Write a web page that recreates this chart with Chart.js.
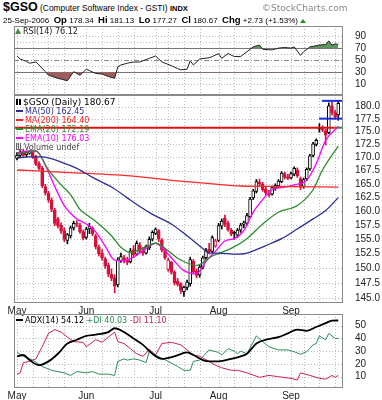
<!DOCTYPE html>
<html><head><meta charset="utf-8">
<script src="https://cdn.jsdelivr.net/npm/chart.js@4.4.1/dist/chart.umd.min.js"></script>
<style>
html,body{margin:0;padding:0;background:#fff;}
#wrap{position:relative;width:382px;height:400px;overflow:hidden;font-family:"Liberation Sans",Arial,sans-serif;color:#000;}
canvas{position:absolute;left:0;}
.t{position:absolute;white-space:nowrap;line-height:1;z-index:5;}
.lg{position:absolute;white-space:nowrap;line-height:1;font-family:"DejaVu Sans",Verdana,sans-serif;font-size:8px;z-index:5;}
.sw{display:inline-block;width:7px;height:2px;vertical-align:middle;margin-right:2px;position:relative;top:-1px;}
</style></head><body>
<div id="wrap">
<canvas id="cRsi" width="382" height="70" style="top:25px"></canvas>
<canvas id="cMain" width="382" height="222" style="top:94px"></canvas>
<canvas id="cAdx" width="382" height="87" style="top:313px"></canvas>

<div class="t" style="left:3px;top:1px;font-size:8.4px;"><b style="font-size:12.5px">$GSO</b> (Computer Software Index - GSTI) <b style="font-size:7.5px">INDX</b></div>
<div class="t" style="left:262px;top:4px;font-size:9px;color:#888;font-family:'DejaVu Sans',sans-serif">&copy;StockCharts.com</div>
<div class="t" style="left:3px;top:15px;font-size:8px;">25-Sep-2006 &nbsp;<b style="font-size:9.5px">Op</b> 178.34 &nbsp;<b style="font-size:9.5px">Hi</b> 181.13 &nbsp;<b style="font-size:9.5px">Lo</b> 177.27 &nbsp;<b style="font-size:9.5px">Cl</b> 180.67 &nbsp;<b style="font-size:9.5px">Chg</b> +2.73 (+1.53%) <span style="display:inline-block;width:0;height:0;border-left:3px solid transparent;border-right:3px solid transparent;border-bottom:4px solid #1a9a1a;"></span></div>

<div class="lg" style="left:15px;top:28px;color:#222"><span style="display:inline-block;width:0;height:0;border-left:3px solid transparent;border-right:3px solid transparent;border-bottom:6px solid #4a8a4a;margin-right:2px"></span>RSI(14) 76.12</div>

<div class="lg" style="left:16px;top:98px;font-size:9px;color:#000"><span style="display:inline-block;width:5px;height:6px;border-left:2px solid #000;border-right:2px solid #000;margin-right:2px;box-sizing:border-box"></span>$GSO (Daily) 180.67</div>
<div class="lg" style="left:16px;top:108px;color:#2b2f8f"><span class="sw" style="background:#2b2f8f"></span>MA(50) 162.45</div>
<div class="lg" style="left:16px;top:117px;color:#ff2020"><span class="sw" style="background:#ff2020"></span>MA(200) 164.40</div>
<div class="lg" style="left:16px;top:126px;color:#2e8b2e"><span class="sw" style="background:#2e8b2e"></span>EMA(20) 172.19</div>
<div class="lg" style="left:16px;top:135px;color:#ff00ff"><span class="sw" style="background:#ff00ff"></span>EMA(10) 176.03</div>
<div class="lg" style="left:16px;top:143px;color:#444"><span style="display:inline-block;width:6px;height:6px;border-bottom:1px solid #666;background:linear-gradient(90deg,#666 0 1px,transparent 1px 2px,#666 2px 3px,transparent 3px 4px,#666 4px 5px,transparent 5px);margin-right:2px"></span>Volume undef</div>

<div class="lg" style="left:16px;top:317px;"><span class="sw" style="background:#000"></span><span style="color:#000">ADX(14) 54.12</span> <span style="color:#2e8b57">+DI 40.03</span> <span style="color:#cc2255">-DI 11.10</span></div>
</div>
<script>
// ---------- data ----------
const monthLabels = ['May','Jun','Jul','Aug','Sep'];
const monthIdx = [0,22,44,64,87];
const gridIdx = [0,5,10,15,22,27,32,37,44,48,53,58,64,69,74,79,87,91,96,101];
const priceTicks = [145,147.5,150,152.5,155,157.5,160,162.5,165,167.5,170,172.5,175,177.5,180];
const rsiTicks = [10,30,50,70,90];
const rsiGrid = [10,20,40,60,80,90];
const adxTicks = [10,20,30,40,50];

const openP = [169.8,170.4,171.2,170.5,170.8,171.0,170.1,168.8,167.9,164.5,
163.3,162.0,160.2,158.6,157.5,156.5,154.8,155.6,157.0,157.8,
157.5,156.3,155.3,156.8,157.0,155.6,153.6,152.6,151.6,150.5,
149.0,148.4,147.2,151.3,151.8,151.3,151.1,153.2,152.4,154.0,
153.0,152.6,153.5,155.0,156.0,156.5,154.9,153.1,149.8,151.0,
149.3,147.8,147.4,146.1,146.8,147.4,151.2,149.5,148.9,150.2,
151.8,153.3,152.9,153.8,154.8,157.3,158.7,157.8,156.6,156.2,
155.7,156.6,157.6,157.8,159.0,162.4,163.6,165.3,164.9,164.0,
163.2,163.1,164.2,164.6,165.4,166.9,166.3,166.1,166.8,167.6,
166.0,164.5,165.9,167.8,170.4,172.5,175.8,175.6,175.2,174.8,
180.2,178.8,178.34];
const highP = [170.9,171.3,171.6,171.2,171.3,171.2,170.4,169.2,168.3,164.9,
163.6,162.4,160.5,158.9,157.9,157.0,156.0,157.3,158.2,158.3,
157.8,156.6,157.1,157.8,157.2,155.9,154.0,153.2,151.9,150.9,
149.9,148.9,151.8,152.6,152.2,151.9,153.4,153.9,154.7,154.4,
153.6,154.0,155.4,156.5,157.0,156.7,155.1,153.4,151.7,151.2,
149.6,148.3,147.6,147.0,148.0,151.9,151.5,149.9,150.5,152.1,
153.4,154.3,155.6,155.0,157.8,158.6,159.3,158.2,156.9,156.4,
156.9,157.8,158.2,159.6,162.5,164.0,165.8,165.9,165.3,164.5,
163.8,164.6,165.0,165.8,167.3,167.2,166.8,167.2,168.2,168.0,
166.3,166.1,168.0,170.6,172.9,173.6,176.6,176.2,175.5,180.8,
181.0,179.3,181.13];
const lowP = [169.5,170.0,170.2,170.1,170.6,169.8,168.4,167.6,164.3,162.9,
161.6,159.9,157.4,157.0,156.0,154.6,154.2,155.2,156.6,157.2,
156.0,154.9,155.0,156.0,155.6,153.3,152.1,151.4,150.0,148.6,
147.9,145.9,146.9,151.0,150.9,150.6,150.9,152.0,152.2,152.6,
152.2,152.4,153.2,154.7,155.8,154.6,152.8,151.5,149.5,149.0,
147.2,147.0,145.8,145.3,146.4,147.0,149.0,148.4,148.5,149.9,
151.5,152.5,152.7,153.6,154.6,156.8,157.2,156.4,155.6,155.0,
155.3,156.2,157.0,157.5,158.8,162.1,163.3,164.5,163.6,162.9,
162.6,162.9,163.8,164.3,165.2,165.9,165.8,165.9,166.5,166.2,
163.9,164.2,165.6,167.5,170.1,172.2,174.9,175.0,172.4,174.6,
178.3,177.5,177.27];
const closeP = [170.4,171.0,170.4,170.9,171.1,170.0,168.7,167.9,164.6,163.3,
162.0,160.3,157.8,157.4,156.4,155.0,155.8,157.0,157.8,157.6,
156.3,155.2,156.8,157.3,155.9,153.7,152.5,151.8,150.4,149.0,
148.3,147.0,151.4,152.0,151.2,151.0,153.0,152.3,154.3,152.9,
152.6,153.8,155.0,156.2,156.8,155.0,153.1,151.8,151.4,149.3,
147.6,147.3,146.3,146.8,147.7,151.5,149.4,148.8,150.2,151.8,
153.1,152.8,155.3,154.7,157.4,158.2,157.6,156.7,155.9,156.0,
156.6,157.5,157.9,159.2,162.2,163.7,165.4,165.0,163.9,163.3,
163.0,164.3,164.7,165.5,167.0,166.2,166.0,166.9,167.9,166.5,
164.4,165.8,167.7,170.3,172.6,173.3,175.5,175.3,174.3,180.2,
178.8,177.94,180.67];

const ma50Idx = [0,4,8,14,19,24,30,35,38,43,49,54,59,61,64,70,73,79,84,89,94,98,102];
const ma50Val = [169.9,170.1,170.1,169.1,167.9,166.2,164.4,162.4,161.2,159.4,157.7,155.6,153.4,152.6,152.6,152.4,152.6,153.9,155.1,156.8,158.6,160.1,162.45];
const ma200Idx = [0,14,36,52,62,71,84,102];
const ma200Val = [167.6,167.2,166.5,165.5,165.0,164.6,164.5,164.4];
const ema20Idx = [0,3,6,10,14,17,20,23,26,30,33,36,40,44,48,51,54,57,62,68,73,78,83,89,94,97,102];
const ema20Val = [170.6,171.0,171.2,167.6,164.8,163.0,160.3,159.0,157.7,155.6,153.6,152.7,153.4,154.3,153.0,151.7,150.9,150.5,152.1,153.4,155.1,157.7,159.8,161.0,163.9,167.6,172.19];
const ema10Idx = [0,3,6,9,12,15,19,22,25,28,31,34,37,41,44,47,50,53,57,60,63,66,69,72,75,78,81,85,88,92,95,98,102];
const ema10Val = [170.8,171.2,171.3,168.5,164.5,161.0,158.6,157.7,156.3,153.8,151.4,151.3,151.9,153.4,154.3,153.0,151.2,149.6,149.1,151.2,152.9,154.7,155.1,156.5,159.8,162.1,163.9,164.4,164.8,165.7,168.8,173.3,176.03];

const levelRed = 175.8;      // horizontal red marker line
const rangeTop = 181.2;      // blue range lines
const rangeBottom = 177.6;

const rsiIdx = [0,1,2,3,4,6,7,9,10,13,16,18,20,22,25,27,29,31,32,33,35,37,39,42,44,46,49,51,52,54,55,56,58,61,62,64,65,67,69,71,72,75,77,78,81,83,85,87,88,90,91,93,96,98,99,100,101,102];
const rsiVal = [57,52,50,48,45,47,42,31,25,20,16,31,25,35,28,27,23,20,39,42,45,47,47,53,57,47,41,36,34,35,49,42,52,54,56,61,53,61,56,56,60,72,75,68,67,70,71,70,72,58,64,72,75,76,82,75,77,76.12];

const adxIdx = [0,2,4,7,10,13,16,19,22,25,29,31,34,37,40,43,46,50,54,56,59,61,64,68,71,73,76,79,83,86,89,92,95,98,100,102];
const adxVal = [26,27,23,19,22,28,36,39,42,43,45,48,45,40,35,28,24,26,29,27,23,22,22,24,26,28,36,39,41,44,47,46,49,52,54,54.12];
const pdiIdx = [0,2,5,8,11,15,17,19,22,24,26,29,31,32,34,35,37,39,41,42,44,48,51,53,55,56,58,61,64,65,67,69,70,71,73,76,78,80,83,86,88,90,92,94,95,96,98,99,101,102];
const pdiVal = [29,26,23,18,15,13,11,14,13,14,12,12,11,22,24,23,24,23,21,30,27,22,18,15,15,22,23,31,29,27,32,30,28,30,28,42,37.5,33.5,31,31,29.6,27.6,29.6,35,36,42,39,44,40,40.03];
const mdiIdx = [0,1,2,4,6,8,10,12,14,16,18,21,22,25,27,29,31,32,34,36,38,40,42,44,46,49,52,54,56,58,61,63,65,68,70,73,77,80,83,87,89,90,93,96,98,100,101,102];
const mdiVal = [12,13,21,22,24,33.5,44,47,45,41,37.5,37,33.5,39,37,41,45,37.5,36,32,28,26,31.5,27,36,37,35,31,27,26,22,19,17,15,15,13,9.5,11,10,8.7,7.4,13,11,8.7,8,11,9.5,11.1];

// ---------- helpers ----------
const X_MIN = -0.95, X_MAX = 103.5;
const RED = '#d8103c', BLK = '#000';
const pts = (ix, vals) => ix.map((x, k) => ({x: x, y: vals[k]}));
const candleCol = closeP.map((c, i) => (i > 0 && c < closeP[i-1]) ? RED : BLK);
const bodyFill = closeP.map((c, i) => c < openP[i] ? candleCol[i] : '#ffffff');

const frame = {
  id: 'frame',
  beforeDatasetsDraw(chart, args, o) {
    const {ctx, chartArea: a, scales} = chart;
    const x = scales.x, y = scales.y;
    ctx.save();
    ctx.beginPath(); ctx.rect(a.left, a.top, a.right - a.left, a.bottom - a.top); ctx.clip();
    ctx.strokeStyle = '#bdbdbd'; ctx.lineWidth = 1; ctx.setLineDash([1, 2]);
    ctx.beginPath();
    (o.xs || []).forEach(v => { const p = Math.round(x.getPixelForValue(v)) + 0.5; ctx.moveTo(p, a.top); ctx.lineTo(p, a.bottom); });
    (o.ys || []).forEach(v => { const p = Math.round(y.getPixelForValue(v)) + 0.5; ctx.moveTo(a.left, p); ctx.lineTo(a.right, p); });
    ctx.stroke();
    (o.levels || []).forEach(l => {
      ctx.setLineDash(l.dash); ctx.strokeStyle = l.color; ctx.lineWidth = 1;
      const p = Math.round(y.getPixelForValue(l.v)) + 0.5;
      ctx.beginPath(); ctx.moveTo(a.left, p); ctx.lineTo(a.right, p); ctx.stroke();
    });
    ctx.restore();
  },
  afterDraw(chart) {
    const {ctx, chartArea: a} = chart;
    ctx.save(); ctx.strokeStyle = '#8a8a8a'; ctx.lineWidth = 1;
    ctx.strokeRect(a.left + 0.5, a.top + 0.5, a.right - a.left - 1, a.bottom - a.top);
    ctx.restore();
  }
};

function noPad(s) { s.paddingTop = 0; s.paddingBottom = 0; s.paddingLeft = 0; s.paddingRight = 0; }
function yAxis(type, min, max, ticks, fmt) {
  return {
    type: type, position: 'right', min: min, max: max,
    grid: {display: false}, border: {display: false},
    afterFit(s) { s.width = 39; noPad(s); },
    afterBuildTicks(s) { s.ticks = ticks.map(v => ({value: v})); },
    ticks: {color: '#222', font: {family: 'Liberation Sans', size: 10}, padding: 4, autoSkip: false, callback: fmt}
  };
}
function xAxis(show, h) {
  return {
    type: 'linear', min: X_MIN, max: X_MAX, offset: false, display: show,
    grid: {display: false, drawTicks: false}, border: {display: false},
    afterFit(s) { s.height = h; noPad(s); },
    afterBuildTicks(s) { s.ticks = monthIdx.map(v => ({value: v})); },
    ticks: {autoSkip: false, maxRotation: 0, minRotation: 0, padding: 3, color: '#222',
      font: {family: 'Liberation Sans', size: 10},
      callback: v => { const k = monthIdx.indexOf(v); return k >= 0 ? monthLabels[k] : ''; }}
  };
}
const common = {
  responsive: false, animation: false, devicePixelRatio: 1,
  plugins: {legend: {display: false}, tooltip: {enabled: false}},
  elements: {point: {radius: 0}}
};
function line(data, color, w, smooth, order) {
  return {type: 'line', data: data, borderColor: color, borderWidth: w, pointRadius: 0, fill: false,
    cubicInterpolationMode: smooth ? 'monotone' : 'default', tension: 0, order: order};
}

// ---------- RSI ----------
new Chart(document.getElementById('cRsi'), {
  type: 'line',
  data: {datasets: [
    {data: pts(rsiIdx, rsiVal), borderColor: 'rgba(0,0,0,0)', borderWidth: 0, pointRadius: 0,
     fill: {value: 70, above: '#5f965f', below: 'rgba(0,0,0,0)'}, order: 3},
    {data: pts(rsiIdx, rsiVal), borderColor: 'rgba(0,0,0,0)', borderWidth: 0, pointRadius: 0,
     fill: {value: 30, above: 'rgba(0,0,0,0)', below: '#a05c5c'}, order: 2},
    line(pts(rsiIdx, rsiVal), '#222', 1, false, 0)
  ]},
  options: Object.assign({}, common, {
    layout: {padding: {left: 14, top: 1, right: 0, bottom: 1}},
    scales: {x: xAxis(false, 0), y: yAxis('linear', -6, 106.6, rsiTicks, v => String(v))},
    plugins: Object.assign({}, common.plugins, {frame: {xs: gridIdx, ys: rsiGrid,
      levels: [{v: 70, color: '#777', dash: []}, {v: 30, color: '#777', dash: []}, {v: 50, color: '#888', dash: [5, 2, 1, 2]}]}})
  }),
  plugins: [frame]
});

// ---------- Price ----------
new Chart(document.getElementById('cMain'), {
  type: 'bar',
  data: {datasets: [
    line(pts(ma50Idx, ma50Val), '#2b2f8f', 1.3, true, 0),
    line(pts(ma200Idx, ma200Val), '#ff2a2a', 1.3, true, 0),
    line(pts(ema20Idx, ema20Val), '#2e8b2e', 1.3, true, 0),
    line(pts(ema10Idx, ema10Val), '#ff00ff', 1.3, true, 0),
    line([{x: X_MIN, y: levelRed}, {x: 100.9, y: levelRed}], '#e01010', 2, false, 0),
    line([{x: 100.9, y: levelRed}, {x: X_MAX, y: levelRed}], '#2e8b2e', 2, false, 0),
    line([{x: 96.8, y: rangeTop}, {x: X_MAX, y: rangeTop}], '#1a2ee0', 2, false, 0),
    line([{x: 95.9, y: rangeBottom}, {x: X_MAX, y: rangeBottom}], '#1a2ee0', 2, false, 0),
    {type: 'bar', data: closeP.map((c, i) => ({x: i, y: [lowP[i], highP[i]]})), backgroundColor: candleCol,
     barThickness: 1, grouped: false, order: 2},
    {type: 'bar', data: closeP.map((c, i) => ({x: i, y: [openP[i], c]})), backgroundColor: bodyFill,
     borderColor: candleCol, borderWidth: 1, borderSkipped: false, barThickness: 3, grouped: false, order: 1}
  ]},
  options: Object.assign({}, common, {
    layout: {padding: {left: 14, top: 1, right: 0, bottom: 0}},
    scales: {x: xAxis(true, 14), y: yAxis('logarithmic', 144.4, 182.4, priceTicks, v => Number(v).toFixed(1))},
    plugins: Object.assign({}, common.plugins, {frame: {xs: gridIdx, ys: priceTicks}})
  }),
  plugins: [frame]
});

// ---------- ADX ----------
new Chart(document.getElementById('cAdx'), {
  type: 'line',
  data: {datasets: [
    line(pts(mdiIdx, mdiVal), '#cc2255', 1, false, 2),
    line(pts(pdiIdx, pdiVal), '#2e8b57', 1, false, 1),
    line(pts(adxIdx, adxVal), '#000', 1.8, true, 0)
  ]},
  options: Object.assign({}, common, {
    layout: {padding: {left: 14, top: 1, right: 0, bottom: 0}},
    scales: {x: xAxis(true, 13), y: yAxis('linear', 1.9, 59.2, adxTicks, v => String(v))},
    plugins: Object.assign({}, common.plugins, {frame: {xs: gridIdx, ys: adxTicks}})
  }),
  plugins: [frame]
});
</script>
</body></html>
